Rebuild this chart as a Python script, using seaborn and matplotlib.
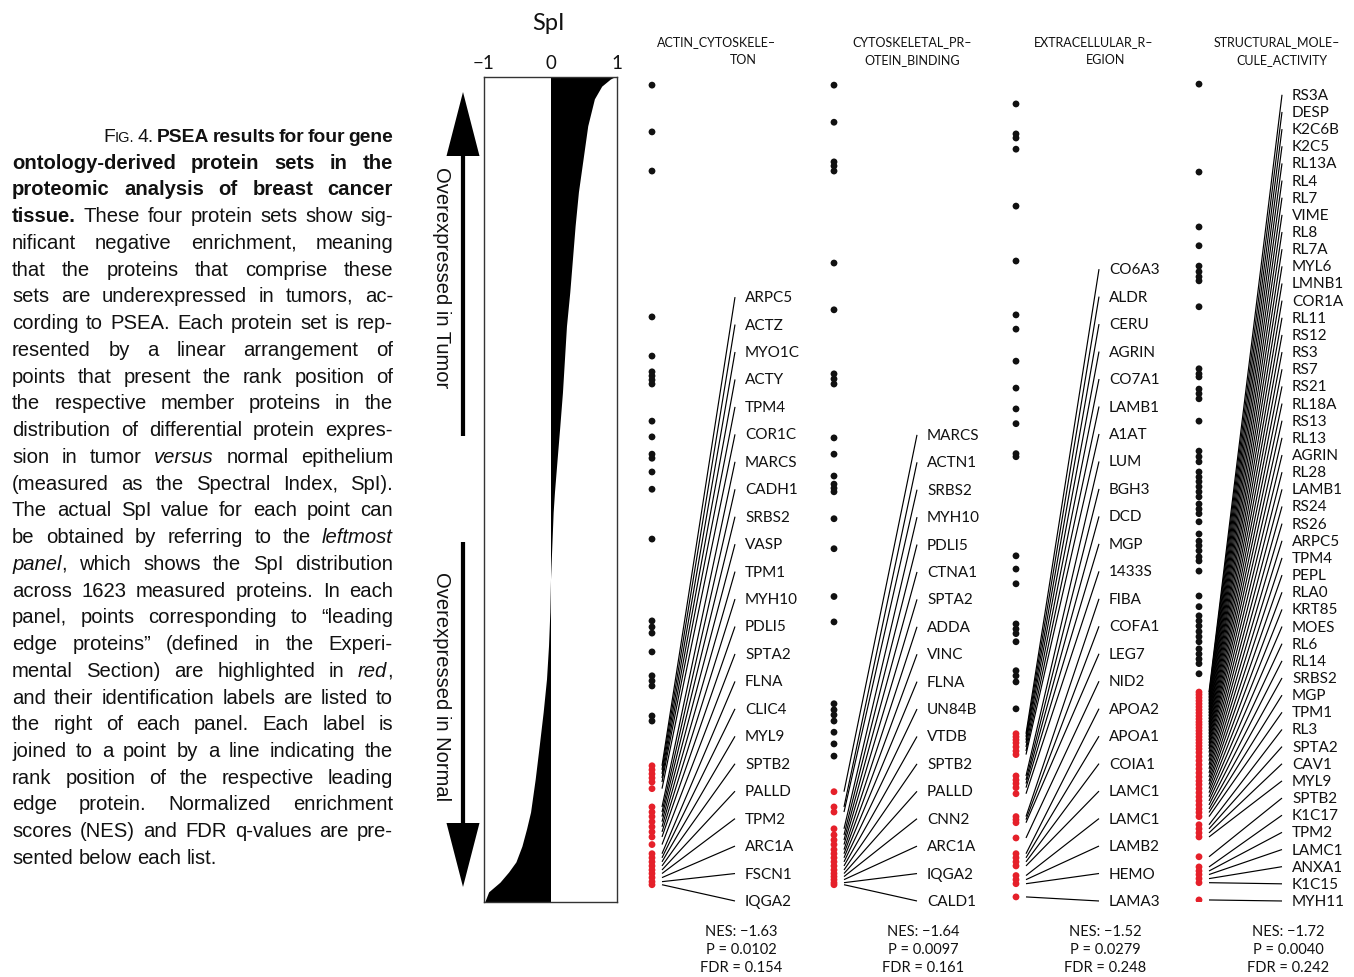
import numpy as np
import pandas as pd
import matplotlib
matplotlib.use("Agg")
import matplotlib.pyplot as plt
import seaborn as sns
from matplotlib.patches import FancyArrow

# ------------------------------------------------------------------ data
N_PROTEINS = 1623

# SpI distribution (rank -> SpI value)
spi_rank = [0, 4, 18, 43, 96, 161, 226, 293, 358, 423, 490, 555, 620, 687, 751,
            816, 856, 922, 988, 1052, 1119, 1184, 1249, 1316, 1381, 1446, 1479,
            1513, 1544, 1564, 1584, 1603, 1623]
spi_value = [0.96, 0.90, 0.77, 0.66, 0.56, 0.49, 0.42, 0.37, 0.33, 0.29, 0.24,
             0.21, 0.18, 0.14, 0.10, 0.06, 0.04, 0.02, 0.00, -0.01, -0.03, -0.06,
             -0.11, -0.17, -0.23, -0.30, -0.36, -0.43, -0.52, -0.63, -0.76, -0.93,
             -0.99]
spi_ticks = [-1, 0, 1]

titles = [("ACTIN_CYTOSKELE–", "TON"),
          ("CYTOSKELETAL_PR–", "OTEIN_BINDING"),
          ("EXTRACELLULAR_R–", "EGION"),
          ("STRUCTURAL_MOLE–", "CULE_ACTIVITY")]

# rank positions of member proteins (black) and leading-edge proteins (red)
p1_other = [16, 108, 185, 472, 549, 580, 588, 596, 604, 677, 708, 742, 750, 777,
            811, 909, 1070, 1082, 1094, 1131, 1178, 1188, 1198, 1257, 1267]
p1_lead = [1355, 1363, 1371, 1379, 1387, 1400, 1436, 1446, 1455, 1465, 1475,
           1485, 1495, 1510, 1528, 1536, 1544, 1552, 1560, 1567, 1575, 1583, 1589]
p1_labels = ["ARPC5", "ACTZ", "MYO1C", "ACTY", "TPM4", "COR1C", "MARCS", "CADH1",
             "SRBS2", "VASP", "TPM1", "MYH10", "PDLI5", "SPTA2", "FLNA", "CLIC4",
             "MYL9", "SPTB2", "PALLD", "TPM2", "ARC1A", "FSCN1", "IQGA2"]

p2_other = [16, 89, 167, 175, 185, 366, 458, 584, 594, 604, 710, 742, 785, 801,
            809, 816, 869, 928, 1022, 1072, 1233, 1245, 1255, 1267, 1289, 1312, 1336]
p2_lead = [1406, 1436, 1446, 1479, 1491, 1501, 1510, 1520, 1528, 1536, 1544, 1552,
           1560, 1567, 1573, 1579, 1585, 1589]
p2_labels = ["MARCS", "ACTN1", "SRBS2", "MYH10", "PDLI5", "CTNA1", "SPTA2", "ADDA",
             "VINC", "FLNA", "UN84B", "VTDB", "SPTB2", "PALLD", "CNN2", "ARC1A",
             "IQGA2", "CALD1"]

p3_other = [53, 112, 120, 142, 254, 362, 468, 496, 559, 612, 653, 682, 741, 747,
            942, 968, 997, 1076, 1086, 1095, 1111, 1168, 1178, 1190, 1243]
p3_lead = [1292, 1298, 1304, 1310, 1318, 1326, 1333, 1375, 1383, 1390, 1398, 1410,
           1455, 1461, 1467, 1497, 1528, 1536, 1544, 1552, 1571, 1579, 1587, 1613]
p3_labels = ["CO6A3", "ALDR", "CERU", "AGRIN", "CO7A1", "LAMB1", "A1AT", "LUM",
             "BGH3", "DCD", "MGP", "1433S", "FIBA", "COFA1", "LEG7", "NID2", "APOA2",
             "APOA1", "COIA1", "LAMC1", "LAMC1", "LAMB2", "HEMO", "LAMA3"]

p4_other = [14, 187, 295, 332, 372, 383, 393, 401, 452, 574, 584, 590, 614, 623,
            633, 677, 736, 747, 757, 777, 787, 796, 806, 816, 826, 840, 850, 859,
            875, 899, 913, 922, 932, 944, 952, 972, 1021, 1042, 1060, 1070, 1080,
            1091, 1101, 1111, 1125, 1135, 1145, 1154, 1174]
p4_lead = [1210, 1215, 1221, 1227, 1233, 1239, 1245, 1251, 1257, 1263, 1269, 1274,
           1280, 1286, 1292, 1298, 1304, 1310, 1316, 1322, 1329, 1337, 1345, 1353,
           1361, 1369, 1377, 1385, 1392, 1400, 1408, 1416, 1424, 1432, 1440, 1447,
           1455, 1471, 1479, 1487, 1495, 1534, 1554, 1562, 1569, 1577, 1585, 1619]
p4_labels = ["RS3A", "DESP", "K2C6B", "K2C5", "RL13A", "RL4", "RL7", "VIME", "RL8",
             "RL7A", "MYL6", "LMNB1", "COR1A", "RL11", "RS12", "RS3", "RS7", "RS21",
             "RL18A", "RS13", "RL13", "AGRIN", "RL28", "LAMB1", "RS24", "RS26",
             "ARPC5", "TPM4", "PEPL", "RLA0", "KRT85", "MOES", "RL6", "RL14", "SRBS2",
             "MGP", "TPM1", "RL3", "SPTA2", "CAV1", "MYL9", "SPTB2", "K1C17", "TPM2",
             "LAMC1", "ANXA1", "K1C15", "MYH11"]

nes = ["−1.63", "−1.64", "−1.52", "−1.72"]
pval = ["0.0102", "0.0097", "0.0279", "0.0040"]
fdr = ["0.154", "0.161", "0.248", "0.242"]

caption_lines = [
    "F^IG.^ 4. #PSEA results for four gene#",
    "#ontology-derived protein sets in the#",
    "#proteomic analysis of breast cancer#",
    "#tissue.# These four protein sets show sig-",
    "nificant negative enrichment, meaning",
    "that the proteins that comprise these",
    "sets are underexpressed in tumors, ac-",
    "cording to PSEA. Each protein set is rep-",
    "resented by a linear arrangement of",
    "points that present the rank position of",
    "the respective member proteins in the",
    "distribution of differential protein expres-",
    "sion in tumor _versus_ normal epithelium",
    "(measured as the Spectral Index, SpI).",
    "The actual SpI value for each point can",
    "be obtained by referring to the _leftmost_",
    "_panel_, which shows the SpI distribution",
    "across 1623 measured proteins. In each",
    "panel, points corresponding to “leading",
    "edge proteins” (defined in the Experi-",
    "mental Section) are highlighted in _red_,",
    "and their identification labels are listed to",
    "the right of each panel. Each label is",
    "joined to a point by a line indicating the",
    "rank position of the respective leading",
    "edge protein. Normalized enrichment",
    "scores (NES) and FDR q-values are pre-",
    "sented below each list.",
]

# ------------------------------------------------------------------ style
sns.set_theme(style="white")
plt.rcParams['font.family'] = ['Lato', 'DejaVu Sans']
FIG_FONT = ['Lato', 'DejaVu Sans']
CAP_FONT = ['Liberation Sans', 'DejaVu Sans']
RED = '#e5202a'
INK = '#111111'

W, H = 1354, 978
fig = plt.figure(figsize=(W / 100, H / 100), dpi=100, facecolor='white')

# decoration layer in pixel units
deco = fig.add_axes([0, 0, 1, 1], zorder=0)
deco.set_xlim(0, W)
deco.set_ylim(H, 0)
deco.axis('off')

TOP_PX, BOT_PX = 78, 903
ax_bottom = (H - BOT_PX) / H
ax_height = (BOT_PX - TOP_PX) / H

# ------------------------------------------------------------------ SpI panel
ax = fig.add_axes([484 / W, ax_bottom, (617 - 484) / W, ax_height], zorder=2)
ax.fill_betweenx(spi_rank, 0, spi_value, color='black', lw=0)
ax.set_xlim(-1, 1)
ax.set_ylim(N_PROTEINS, 0)
ax.set_xticks(spi_ticks)
ax.set_xticklabels(["−1", "0", "1"])
ax.xaxis.tick_top()
ax.tick_params(axis='x', length=0, pad=4, labelsize=13.5, colors=INK)
ax.set_yticks([])
ax.set_xlabel("")
ax.set_ylabel("")
for s in ax.spines.values():
    s.set_color('#333333')
    s.set_linewidth(1.0)
deco.text(548, 23, "SpI", ha='center', va='center', fontsize=17, color=INK,
          family=FIG_FONT)

# arrows and rotated labels
deco.add_patch(FancyArrow(463, 437, 0, -344, width=4.2, head_width=33,
                          head_length=64, length_includes_head=True,
                          color='black', lw=0))
deco.add_patch(FancyArrow(463, 543, 0, 345, width=4.2, head_width=33,
                          head_length=64, length_includes_head=True,
                          color='black', lw=0))
deco.text(441, 278, "Overexpressed in Tumor", rotation=-90, ha='center',
          va='center', fontsize=14.5, color=INK, family=CAP_FONT)
deco.text(441, 687, "Overexpressed in Normal", rotation=-90, ha='center',
          va='center', fontsize=14.5, color=INK, family=CAP_FONT)

# ------------------------------------------------------------------ set panels
panels = [
    (p1_other, p1_lead, p1_labels),
    (p2_other, p2_lead, p2_labels),
    (p3_other, p3_lead, p3_labels),
    (p4_other, p4_lead, p4_labels),
]
panel_x0 = [640, 822, 1004, 1187]
label_top_rank = [433, 704, 378, 35]
label_bottom_rank = 1621
title_c1 = [717, 912, 1094, 1277]
title_c2 = [743, 912, 1106, 1282]
PW = 160

for i, (other, lead, labels) in enumerate(panels):
    x0 = panel_x0[i]
    pax = fig.add_axes([x0 / W, ax_bottom, PW / W, ax_height], zorder=3)
    df = pd.DataFrame({
        'rank': other + lead,
        'col': 12,
        'kind': ['member'] * len(other) + ['leading edge'] * len(lead),
    })
    label_ranks = np.linspace(label_top_rank[i], label_bottom_rank, len(labels))
    for r, lr, lab in zip(sorted(lead), label_ranks, labels):
        pax.plot([22, 95], [r, lr], color='black', lw=0.85, solid_capstyle='butt',
                 zorder=1)
        pax.text(105, lr, lab, ha='left', va='center', fontsize=11, color=INK,
                 family=FIG_FONT)
    sns.scatterplot(data=df, x='col', y='rank', hue='kind',
                    palette={'member': INK, 'leading edge': RED},
                    s=24, linewidth=0, legend=False, ax=pax, zorder=2)
    pax.set_xlim(0, PW)
    pax.set_ylim(N_PROTEINS, 0)
    pax.axis('off')

    t1, t2 = titles[i]
    deco.text(title_c1[i], 42, t1, ha='center', va='center', fontsize=9.0,
              color=INK, family=FIG_FONT)
    deco.text(title_c2[i], 60, t2, ha='center', va='center', fontsize=9.0,
              color=INK, family=FIG_FONT)

    cx = x0 + 101
    deco.text(cx, 932, f"NES: {nes[i]}", ha='center', va='center', fontsize=10.5,
              color=INK, family=FIG_FONT)
    deco.text(cx, 950, f"P = {pval[i]}", ha='center', va='center', fontsize=10.5,
              color=INK, family=FIG_FONT)
    deco.text(cx, 968, f"FDR = {fdr[i]}", ha='center', va='center', fontsize=10.5,
              color=INK, family=FIG_FONT)

# ------------------------------------------------------------------ caption
renderer = fig.canvas.get_renderer()


def parse(line):
    words, cur, buf = [], [], ''
    bold = ital = small = False
    for ch in line:
        if ch in '#_^ ':
            if buf:
                cur.append((buf, bold, ital, small))
                buf = ''
            if ch == '#':
                bold = not bold
            elif ch == '_':
                ital = not ital
            elif ch == '^':
                small = not small
            else:
                if cur:
                    words.append(cur)
                    cur = []
        else:
            buf += ch
    if buf:
        cur.append((buf, bold, ital, small))
    if cur:
        words.append(cur)
    return words


def props(bold, ital, small, fs):
    return dict(fontsize=fs * (0.76 if small else 1.0),
                fontweight='bold' if bold else 'normal',
                fontstyle='italic' if ital else 'normal',
                family=CAP_FONT, color=INK)


def piece_width(txt, p):
    t = deco.text(0, 0, txt, **p)
    w = t.get_window_extent(renderer=renderer).width
    t.remove()
    return w


def word_width(word, fs):
    return sum(piece_width(txt, props(b, it, sm, fs)) for txt, b, it, sm in word)


parsed = [parse(l) for l in caption_lines]
CAP_LEFT, CAP_RIGHT = 12, 393
indent = {0: 103}
BASE_FS = 14.6
MIN_SPACE = 0.17  # em

y0, dy = 135, 26.74
for k, words in enumerate(parsed):
    left = indent.get(k, CAP_LEFT)
    avail = CAP_RIGHT - left
    fs = BASE_FS
    justified = k < len(parsed) - 1 and len(words) > 1
    widths = [word_width(w, fs) for w in words]
    if justified:
        natural = sum(widths) + (len(words) - 1) * MIN_SPACE * fs * 100 / 72
        if natural > avail:
            fs = fs * avail / natural
            widths = [word_width(w, fs) for w in words]
        gap = (avail - sum(widths)) / (len(words) - 1)
    else:
        gap = 0.27 * fs * 100 / 72
    x = left
    ybase = y0 + k * dy + 7
    for w, ww in zip(words, widths):
        px = x
        for txt, b, it, sm in w:
            p = props(b, it, sm, fs)
            deco.text(px, ybase, txt, ha='left', va='baseline', **p)
            px += piece_width(txt, p)
        x += ww + gap

fig.savefig("out.png", dpi=100, facecolor='white')
